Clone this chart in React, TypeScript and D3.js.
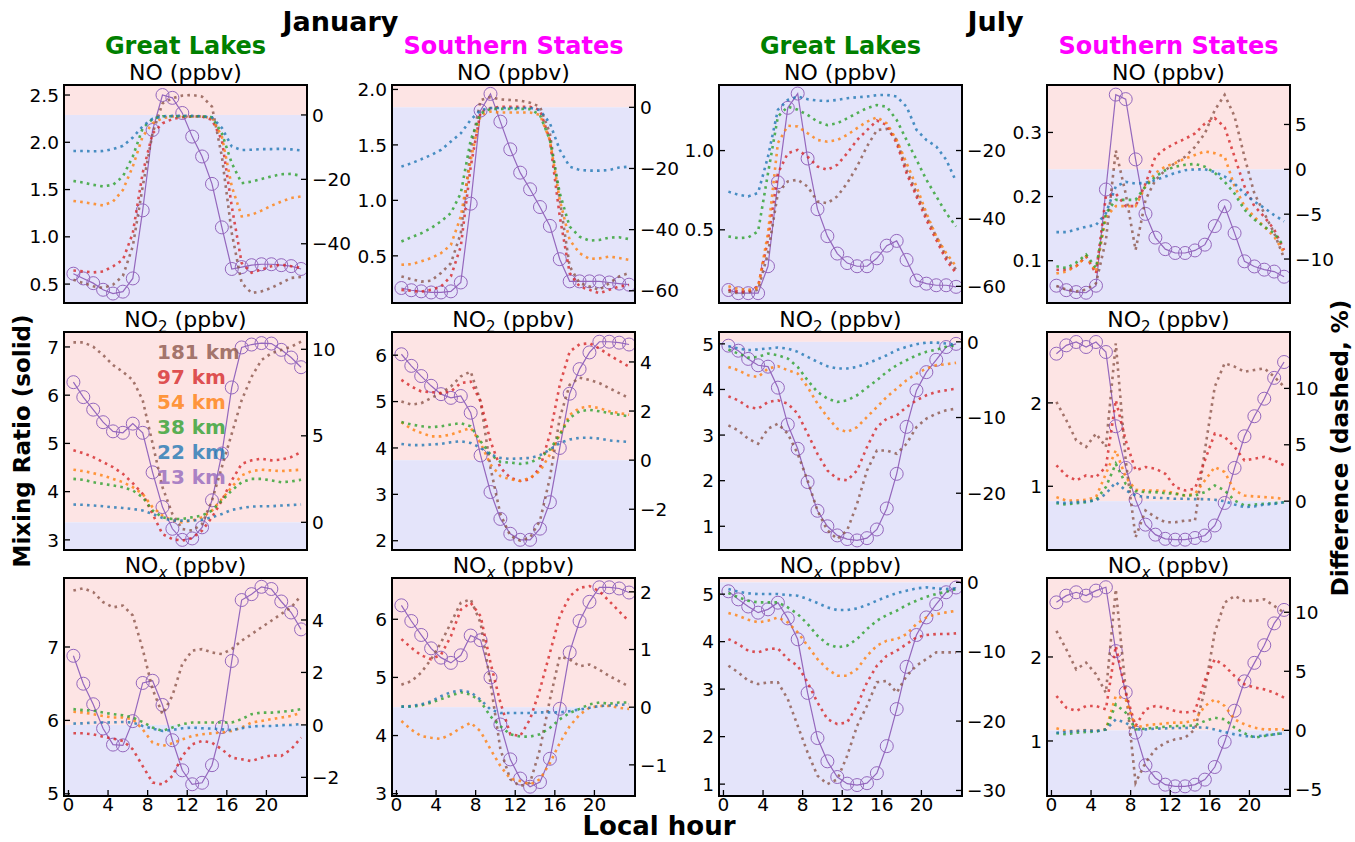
import React from "react";
import * as d3 from "d3";

// hourly points (local hour, bin centre)
const HOURS = [0.5, 1.5, 2.5, 3.5, 4.5, 5.5, 6.5, 7.5, 8.5, 9.5, 10.5, 11.5, 12.5, 13.5, 14.5, 15.5, 16.5, 17.5, 18.5, 19.5, 20.5, 21.5, 22.5, 23.5];
const X_TICKS = [0, 4, 8, 12, 16, 20];
const MONTHS = ["January", "July"];
const REGIONS = ["Great Lakes", "Southern States"];
const REGION_COLORS = ["#008000", "#ff00ff"];
// order of the dashed series: 181, 97, 54, 38, 22 km ; 13 km is the solid one
const SITES = ["181 km", "97 km", "54 km", "38 km", "22 km", "13 km"];
const SITE_COLORS = ["#8c564b", "#d62728", "#ff7f0e", "#2ca02c", "#1f77b4", "#9467bd"];

// ---------- NO ----------
const JAN_GL_NO = [0.61, 0.56, 0.51, 0.44, 0.40, 0.42, 0.56, 1.28, 2.13, 2.50, 2.47, 2.31, 2.06, 1.85, 1.56, 1.10, 0.66, 0.68, 0.70, 0.71, 0.71, 0.70, 0.69, 0.66];
const JAN_GL_NO_DIFF = [
  [-51.2, -52.2, -53.2, -53.7, -52.7, -50.0, -40.8, -22.2, -5.7, 3.6, 5.2, 6.0, 6.2, 5.7, 2.6, -12.9, -36.7, -52.2, -55.3, -54.8, -53.7, -52.2, -50.6, -50.3],
  [-48.3, -48.6, -48.9, -48.6, -47.0, -45.0, -36.7, -18.0, -5.7, -2.6, -1.3, -0.7, -0.5, -0.5, -1.5, -7.8, -28.4, -46.0, -49.0, -48.0, -47.0, -46.5, -47.0, -47.5],
  [-26.7, -27.1, -27.6, -28.1, -26.9, -23.3, -16.0, -6.7, -2.6, -1.0, -0.5, -0.5, -0.5, -0.5, -1.0, -6.7, -22.2, -31.5, -31.0, -29.7, -28.2, -26.9, -25.8, -25.3],
  [-20.5, -21.0, -21.7, -22.2, -21.7, -19.1, -12.9, -4.1, -1.2, -0.4, -0.4, -0.4, -0.4, -0.4, -0.7, -5.7, -15.0, -21.2, -20.7, -19.9, -19.1, -18.4, -18.3, -18.9],
  [-11.2, -11.2, -11.3, -11.2, -10.6, -9.6, -7.0, -3.5, -1.2, -0.4, -0.3, -0.3, -0.3, -0.4, -0.8, -4.0, -9.8, -10.9, -10.8, -10.6, -10.6, -10.5, -10.7, -11.0],
];
const JAN_SS_NO = [0.21, 0.19, 0.18, 0.17, 0.17, 0.18, 0.26, 0.97, 1.81, 1.96, 1.71, 1.46, 1.25, 1.10, 0.94, 0.77, 0.47, 0.27, 0.27, 0.27, 0.27, 0.26, 0.25, 0.24];
const JAN_SS_NO_DIFF = [
  [-55.3, -56.2, -57.0, -56.7, -54.2, -51.0, -41.2, -13.9, 2.4, 3.3, 2.6, 2.4, 2.2, 1.5, 0.2, -8.5, -30.3, -52.0, -57.5, -58.6, -59.7, -57.5, -55.3, -54.2],
  [-59.7, -60.0, -60.3, -59.7, -58.6, -55.3, -45.5, -19.4, -1.4, -0.3, 0.2, 0.2, 0.2, 0.2, -0.9, -10.7, -35.7, -54.2, -58.6, -59.7, -60.8, -59.7, -58.6, -58.1],
  [-51.5, -51.3, -50.4, -49.3, -47.7, -45.0, -35.7, -17.2, -2.5, -1.4, -1.7, -1.7, -1.7, -1.7, -2.5, -10.7, -30.3, -43.4, -47.7, -49.6, -49.4, -48.8, -49.3, -49.9],
  [-43.9, -42.5, -41.2, -39.5, -37.3, -34.6, -28.1, -10.7, -2.0, -0.5, -0.5, -0.5, -0.5, -0.6, -2.5, -10.7, -28.1, -39.0, -42.3, -43.6, -43.4, -42.6, -42.5, -43.1],
  [-19.4, -18.3, -17.0, -15.6, -13.9, -11.2, -8.5, -4.1, -0.9, -0.2, -0.2, -0.2, -0.2, -0.2, -0.9, -5.2, -13.9, -19.4, -20.5, -20.7, -20.7, -20.5, -19.7, -19.4],
];
const JUL_GL_NO = [0.12, 0.10, 0.10, 0.10, 0.27, 0.80, 1.27, 1.36, 0.95, 0.63, 0.46, 0.35, 0.29, 0.27, 0.27, 0.32, 0.40, 0.43, 0.31, 0.18, 0.16, 0.15, 0.15, 0.14];
const JUL_GL_NO_DIFF = [
  [-61.5, -62.0, -61.8, -61.0, -50.2, -32.5, -29.1, -28.6, -30.6, -35.0, -35.5, -33.5, -29.6, -24.7, -18.8, -14.0, -13.6, -16.9, -25.7, -32.5, -39.4, -45.3, -51.2, -55.1],
  [-61.0, -61.5, -61.5, -60.0, -46.3, -26.7, -20.8, -19.8, -21.8, -24.7, -25.7, -24.2, -20.8, -16.9, -14.0, -11.2, -12.5, -17.8, -26.7, -33.5, -40.4, -46.3, -52.2, -56.1],
  [-60.0, -60.8, -61.0, -60.5, -44.3, -17.8, -12.7, -12.9, -14.9, -16.9, -17.4, -16.9, -15.4, -13.4, -11.5, -10.2, -12.0, -16.9, -23.7, -30.6, -38.4, -45.3, -50.2, -54.1],
  [-45.3, -45.8, -45.6, -43.8, -26.7, -10.0, -7.1, -8.0, -9.5, -11.5, -12.5, -12.0, -10.5, -9.0, -7.5, -6.6, -7.1, -11.0, -16.9, -22.7, -28.6, -33.5, -38.4, -42.4],
  [-32.1, -33.0, -33.5, -32.5, -21.8, -8.0, -5.1, -4.1, -4.9, -5.3, -5.4, -5.1, -4.6, -4.3, -4.1, -3.7, -3.6, -4.1, -7.1, -13.9, -16.9, -18.8, -22.7, -29.1],
];
const JUL_SS_NO = [0.061, 0.054, 0.051, 0.050, 0.061, 0.211, 0.359, 0.352, 0.258, 0.173, 0.136, 0.118, 0.112, 0.112, 0.116, 0.125, 0.154, 0.185, 0.143, 0.099, 0.091, 0.086, 0.083, 0.075];
const JUL_SS_NO_DIFF = [
  [-13.0, -13.4, -13.6, -13.4, -12.7, -7.9, 2.1, -2.7, -9.0, -3.4, -1.2, -0.1, 0.7, 1.4, 2.5, 4.0, 6.6, 8.3, 5.9, 1.4, -2.7, -4.9, -7.1, -9.9],
  [-11.2, -11.2, -10.8, -9.7, -11.6, -3.0, -2.7, -4.1, -4.1, -1.6, 1.4, 2.3, 2.9, 3.4, 4.0, 5.1, 5.7, 4.7, 1.4, -1.9, -4.1, -5.3, -6.7, -9.0],
  [-11.6, -11.4, -10.8, -9.7, -11.4, -5.3, -4.1, -4.1, -4.1, -1.9, -0.4, 0.3, 0.7, 1.2, 1.6, 2.0, 1.8, 1.4, -1.9, -4.1, -5.3, -6.4, -7.5, -9.3],
  [-10.8, -11.0, -10.4, -9.5, -11.0, -4.9, -3.4, -3.4, -3.4, -1.9, -0.8, -0.1, 0.3, 0.5, 0.6, 0.3, -0.4, -1.4, -2.7, -4.5, -5.6, -6.4, -7.1, -8.6],
  [-7.0, -7.0, -6.7, -6.4, -6.2, -4.9, -1.9, -1.4, -1.6, -1.5, -1.2, -0.8, -0.4, -0.1, 0.0, 0.0, -0.3, -0.8, -1.6, -2.7, -3.6, -4.3, -5.1, -5.8],
];

// ---------- NO2 ----------
const JAN_GL_NO2 = [6.27, 5.96, 5.70, 5.44, 5.25, 5.22, 5.41, 5.22, 4.40, 3.68, 3.23, 3.00, 3.03, 3.26, 3.82, 4.79, 6.16, 6.99, 7.05, 7.08, 7.07, 6.94, 6.78, 6.58];
const JAN_GL_NO2_DIFF = [
  [10.4, 10.4, 10.15, 9.67, 9.09, 8.7, 8.22, 7.06, 4.55, 2.03, 0.48, -0.39, -0.48, -0.1, 1.26, 3.19, 5.13, 7.06, 8.41, 9.38, 9.77, 9.96, 10.15, 10.44],
  [4.16, 4.0, 3.77, 3.48, 3.19, 2.8, 2.26, 1.64, 0.48, -0.68, -0.97, -1.06, -0.91, -0.48, 0.29, 1.26, 2.42, 3.38, 3.58, 3.68, 3.58, 3.62, 3.77, 4.06],
  [3.04, 2.96, 2.84, 2.7, 2.51, 2.32, 2.03, 1.64, 0.87, 0.39, 0.1, 0.0, 0.1, 0.29, 0.68, 1.35, 2.03, 2.71, 2.96, 3.04, 3.0, 2.96, 3.0, 3.04],
  [2.51, 2.46, 2.32, 2.22, 2.13, 2.03, 1.84, 1.45, 0.68, 0.29, 0.19, 0.19, 0.29, 0.39, 0.68, 1.26, 1.84, 2.32, 2.51, 2.51, 2.42, 2.32, 2.36, 2.46],
  [1.03, 1.01, 0.97, 0.93, 0.87, 0.83, 0.77, 0.68, 0.48, 0.25, 0.1, 0.1, 0.1, 0.15, 0.29, 0.48, 0.72, 0.83, 0.91, 0.93, 0.93, 0.97, 1.0, 1.03],
];
const JAN_SS_NO2 = [6.02, 5.77, 5.55, 5.34, 5.16, 5.08, 5.12, 4.76, 3.84, 3.05, 2.47, 2.15, 2.02, 2.02, 2.26, 2.83, 4.00, 5.17, 5.70, 6.06, 6.29, 6.29, 6.27, 6.23];
const JAN_SS_NO2_DIFF = [
  [2.39, 2.26, 2.32, 2.53, 2.73, 3.0, 3.41, 3.61, 2.39, -0.31, -2.2, -3.08, -3.28, -3.15, -2.47, -0.72, 1.72, 3.07, 3.36, 3.27, 3.14, 2.93, 2.73, 2.53],
  [3.27, 3.0, 2.8, 2.77, 2.73, 2.8, 3.14, 3.2, 2.39, 0.77, -0.31, -0.72, -0.85, -0.78, -0.31, 1.04, 3.07, 4.42, 4.72, 4.76, 4.55, 4.28, 4.04, 3.81],
  [1.55, 1.27, 1.11, 0.97, 0.97, 1.04, 1.18, 1.31, 0.7, -0.18, -0.65, -0.78, -0.85, -0.72, -0.45, 0.23, 1.04, 1.85, 2.12, 2.19, 2.12, 1.99, 1.92, 1.85],
  [1.55, 1.45, 1.38, 1.34, 1.38, 1.45, 1.51, 1.38, 0.77, 0.23, -0.07, -0.1, -0.15, -0.1, 0.09, 0.43, 1.04, 1.72, 1.99, 2.05, 1.99, 1.92, 1.85, 1.78],
  [0.66, 0.61, 0.61, 0.64, 0.66, 0.73, 0.77, 0.7, 0.5, 0.23, 0.09, 0.05, 0.07, 0.09, 0.2, 0.43, 0.7, 0.84, 0.91, 0.91, 0.88, 0.8, 0.77, 0.74],
];
const JUL_GL_NO2 = [4.96, 4.85, 4.67, 4.53, 4.50, 4.04, 3.23, 2.70, 1.97, 1.34, 1.00, 0.80, 0.72, 0.69, 0.74, 0.93, 1.39, 2.15, 3.18, 3.98, 4.38, 4.65, 4.93, 5.00];
const JUL_GL_NO2_DIFF = [
  [-11.04, -11.7, -12.8, -13.47, -11.48, -10.82, -12.14, -14.79, -18.32, -22.3, -24.9, -26.05, -24.9, -21.4, -17.0, -14.35, -14.35, -14.79, -13.47, -11.26, -10.15, -9.49, -9.05, -8.83],
  [-7.2, -7.73, -8.61, -8.83, -7.95, -7.73, -8.17, -9.49, -12.14, -14.79, -17.0, -18.1, -18.3, -17.0, -13.9, -11.26, -10.15, -9.71, -8.61, -7.73, -7.06, -6.62, -6.4, -6.18],
  [-3.31, -3.75, -4.42, -4.64, -3.53, -3.22, -3.75, -4.19, -5.96, -8.17, -9.93, -11.48, -11.92, -11.26, -9.93, -8.61, -7.28, -6.18, -5.08, -4.19, -3.53, -3.09, -2.96, -2.78],
  [-1.02, -1.55, -2.08, -2.0, -1.55, -1.77, -2.21, -3.31, -5.08, -6.62, -7.5, -7.95, -7.73, -7.06, -6.05, -5.08, -3.97, -3.09, -2.43, -1.77, -1.32, -1.02, -0.66, -0.44],
  [-0.57, -0.88, -1.1, -1.0, -0.88, -0.75, -0.88, -1.32, -1.99, -2.65, -3.22, -3.53, -3.53, -3.31, -2.87, -2.34, -1.77, -1.1, -0.66, -0.31, -0.1, -0.1, -0.22, -0.44],
];
const JUL_SS_NO2 = [2.59, 2.69, 2.73, 2.67, 2.73, 2.61, 1.72, 1.22, 0.84, 0.54, 0.42, 0.37, 0.36, 0.36, 0.38, 0.41, 0.53, 0.80, 1.22, 1.60, 1.84, 2.05, 2.30, 2.49];
const JUL_SS_NO2_DIFF = [
  [8.81, 7.18, 5.4, 4.81, 5.99, 4.81, 14.0, 3.62, -3.2, -0.83, -1.42, -1.87, -1.87, -1.72, -1.72, 4.51, 10.15, 12.23, 11.93, 11.48, 11.63, 11.78, 11.04, 10.15],
  [3.18, 2.28, 1.84, 2.28, 2.14, 3.03, 8.96, 5.4, 2.73, 3.03, 2.88, 2.43, 1.25, 0.95, 1.1, 3.62, 5.99, 5.7, 4.81, 3.62, 3.77, 3.92, 3.62, 3.18],
  [0.36, 0.06, 0.06, 0.12, 0.36, 2.43, 4.51, 2.14, 1.01, 0.95, 0.95, 0.89, 0.71, 0.5, 0.65, 1.84, 3.03, 2.58, 0.95, 0.5, 0.42, 0.36, 0.3, 0.21],
  [-0.18, -0.3, -0.18, -0.09, 0.12, 1.25, 3.32, 1.54, 0.89, 0.8, 0.8, 0.71, 0.65, 0.5, 0.5, 0.8, 1.39, 0.95, 0.06, -0.39, -0.3, -0.24, -0.18, -0.09],
  [-0.09, -0.18, -0.09, -0.03, 0.06, 0.65, 1.69, 0.95, 0.5, 0.36, 0.3, 0.27, 0.21, 0.21, 0.18, 0.18, 0.12, 0.0, -0.3, -0.53, -0.47, -0.3, -0.24, -0.09],
];

// ---------- NOx ----------
const JAN_GL_NOX = [6.88, 6.50, 6.22, 5.89, 5.67, 5.66, 5.99, 6.51, 6.54, 6.21, 5.73, 5.32, 5.13, 5.15, 5.39, 5.91, 6.81, 7.64, 7.72, 7.82, 7.79, 7.62, 7.47, 7.24];
const JAN_GL_NOX_DIFF = [
  [5.12, 5.21, 5.06, 4.68, 4.48, 4.55, 4.17, 2.89, 1.36, 0.41, 1.11, 2.32, 2.83, 2.89, 2.76, 2.7, 2.89, 3.21, 3.46, 3.72, 3.97, 4.23, 4.48, 4.93],
  [-0.32, -0.32, -0.36, -0.45, -0.52, -0.61, -0.93, -1.57, -2.2, -2.27, -1.95, -1.18, -0.74, -0.61, -0.68, -0.93, -1.25, -1.31, -1.38, -1.25, -1.16, -1.18, -0.93, -0.48],
  [0.5, 0.47, 0.41, 0.34, 0.28, 0.28, 0.22, -0.17, -0.68, -0.8, -0.7, -0.55, -0.42, -0.36, -0.32, -0.29, -0.23, -0.1, 0.09, 0.15, 0.22, 0.28, 0.34, 0.47],
  [0.6, 0.56, 0.54, 0.47, 0.41, 0.37, 0.28, 0.11, -0.1, -0.23, -0.1, 0.03, 0.09, 0.09, 0.09, 0.09, 0.09, 0.22, 0.41, 0.47, 0.47, 0.5, 0.54, 0.6],
  [0.05, 0.06, 0.09, 0.09, 0.1, 0.11, 0.09, -0.04, -0.14, -0.23, -0.19, -0.13, -0.1, -0.13, -0.14, -0.17, -0.2, -0.13, -0.06, -0.04, -0.04, -0.01, 0.0, 0.03],
];
const JAN_SS_NOX = [6.24, 5.97, 5.73, 5.50, 5.34, 5.25, 5.38, 5.72, 5.64, 5.00, 4.19, 3.59, 3.26, 3.12, 3.20, 3.60, 4.46, 5.43, 5.97, 6.30, 6.55, 6.55, 6.53, 6.46];
const JAN_SS_NOX_DIFF = [
  [0.39, 0.45, 0.6, 0.83, 1.12, 1.46, 1.81, 1.87, 1.46, 0.42, -0.73, -1.25, -1.37, -1.31, -0.73, 0.13, 0.88, 0.83, 0.71, 0.74, 0.65, 0.54, 0.45, 0.36],
  [1.18, 1.03, 0.9, 0.83, 0.91, 1.23, 1.69, 1.81, 1.58, 0.77, 0.08, -0.47, -0.5, -0.21, 0.31, 0.94, 1.58, 1.92, 2.07, 2.1, 2.01, 1.84, 1.66, 1.49],
  [-0.24, -0.39, -0.5, -0.53, -0.55, -0.47, -0.36, -0.27, -0.42, -0.73, -1.02, -1.24, -1.28, -1.34, -1.25, -0.97, -0.62, -0.33, -0.13, -0.01, 0.02, 0.02, -0.01, -0.03],
  [0.01, 0.01, 0.03, 0.08, 0.14, 0.2, 0.26, 0.22, 0.1, -0.16, -0.33, -0.47, -0.51, -0.51, -0.47, -0.36, -0.21, -0.1, -0.03, 0.05, 0.08, 0.06, 0.08, 0.08],
  [0.01, 0.02, 0.05, 0.1, 0.19, 0.26, 0.29, 0.26, 0.13, -0.04, -0.1, -0.1, -0.1, -0.1, -0.09, -0.09, -0.09, -0.07, -0.04, -0.01, 0.02, 0.03, 0.04, 0.05],
];
const JUL_GL_NOX = [5.06, 4.89, 4.74, 4.61, 4.68, 4.82, 4.49, 4.05, 2.92, 1.97, 1.48, 1.15, 1.01, 0.98, 1.02, 1.23, 1.80, 2.58, 3.47, 4.14, 4.51, 4.79, 5.04, 5.14];
const JUL_GL_NOX_DIFF = [
  [-12.02, -12.98, -14.18, -14.66, -14.42, -14.42, -16.83, -20.67, -24.52, -27.88, -29.09, -28.4, -25.0, -20.7, -17.8, -14.4, -14.2, -15.9, -13.5, -12.0, -11.06, -10.1, -10.1, -10.1],
  [-8.17, -8.89, -9.86, -10.1, -9.62, -9.52, -11.06, -12.02, -14.42, -17.31, -19.71, -20.43, -20.19, -17.79, -14.42, -12.02, -10.58, -9.86, -8.89, -7.93, -7.6, -7.45, -7.45, -7.36],
  [-4.42, -4.81, -5.38, -5.77, -5.53, -5.05, -5.77, -7.21, -9.13, -11.06, -12.5, -13.46, -13.46, -12.5, -10.58, -9.13, -8.41, -8.17, -7.45, -6.0, -5.05, -4.57, -4.33, -4.09],
  [-1.54, -2.16, -2.64, -2.88, -2.88, -2.88, -3.61, -4.57, -6.0, -7.69, -8.89, -9.38, -9.13, -8.17, -6.73, -5.53, -4.71, -4.09, -3.27, -2.64, -2.07, -1.68, -1.35, -0.96],
  [-0.96, -1.35, -1.59, -1.68, -1.68, -1.68, -1.83, -1.92, -2.4, -2.98, -3.61, -3.99, -3.99, -3.75, -3.27, -2.64, -2.07, -1.54, -1.2, -0.87, -0.72, -0.87, -0.96, -0.87],
];
const JUL_SS_NOX = [2.65, 2.73, 2.77, 2.73, 2.79, 2.83, 2.07, 1.58, 1.10, 0.71, 0.56, 0.48, 0.46, 0.46, 0.48, 0.54, 0.69, 0.99, 1.36, 1.71, 1.93, 2.14, 2.40, 2.56];
const JUL_SS_NOX_DIFF = [
  [8.42, 6.86, 5.16, 5.73, 4.75, 3.19, 11.95, 3.47, -4.44, -2.74, -1.61, -1.05, -0.76, -0.62, 0.08, 3.47, 8.28, 10.82, 11.38, 10.96, 10.96, 11.1, 10.54, 9.97],
  [2.91, 1.92, 1.64, 2.06, 2.06, 1.78, 7.15, 3.19, 0.37, 1.78, 2.06, 1.92, 1.64, 1.5, 1.64, 4.24, 6.02, 5.45, 4.6, 3.9, 3.62, 3.47, 3.19, 2.77],
  [0.17, -0.06, -0.06, 0.03, -0.06, 0.08, 2.91, 2.63, 0.23, 0.42, 0.51, 0.59, 0.65, 0.65, 0.88, 2.06, 2.63, 2.06, 0.93, 0.51, 0.23, 0.08, 0.08, 0.08],
  [-0.25, -0.34, -0.2, -0.14, -0.11, 0.08, 2.2, 1.5, 0.08, 0.14, 0.23, 0.31, 0.37, 0.37, 0.42, 0.79, 1.07, 0.93, 0.23, -0.25, -0.62, -0.48, -0.34, -0.2],
  [-0.2, -0.14, -0.06, 0.0, -0.06, 0.08, 0.93, 0.65, 0.08, 0.08, 0.14, 0.17, 0.2, 0.2, 0.23, 0.25, 0.08, -0.14, -0.34, -0.48, -0.54, -0.42, -0.34, -0.25],
];

// axis limits and ticks for each panel (row-major)
const LEFT_LIMITS = [
  [0.30, 2.606], [0.075, 2.04], [0.038, 1.414], [0.034, 0.374],
  [2.79, 7.31], [1.80, 6.50], [0.48, 5.26], [0.236, 2.85],
  [4.97, 7.94], [2.96, 6.71], [0.75, 5.34], [0.345, 2.94],
];
const RIGHT_LIMITS = [
  [-58.4, 9.3], [-64.0, 7.3], [-64.9, -0.7], [-14.9, 9.4],
  [-1.6, 11.0], [-3.66, 5.22], [-27.5, 1.3], [-4.33, 15.0],
  [-2.71, 5.6], [-1.54, 2.24], [-30.8, 0.63], [-5.56, 12.9],
];
const LEFT_TICKS = [
  [0.5, 1.0, 1.5, 2.0, 2.5], [0.5, 1.0, 1.5, 2.0], [0.5, 1.0], [0.1, 0.2, 0.3],
  [3, 4, 5, 6, 7], [2, 3, 4, 5, 6], [1, 2, 3, 4, 5], [1, 2],
  [5, 6, 7], [3, 4, 5, 6], [1, 2, 3, 4, 5], [1, 2],
];
const RIGHT_TICKS = [
  [0, -20, -40], [0, -20, -40, -60], [-20, -40, -60], [5, 0, -5, -10],
  [0, 5, 10], [-2, 0, 2, 4], [-20, -10, 0], [0, 5, 10],
  [-2, 0, 2, 4], [-1, 0, 1, 2], [-30, -20, -10, 0], [-5, 0, 5, 10],
];

const MIX = [JAN_GL_NO, JAN_SS_NO, JUL_GL_NO, JUL_SS_NO, JAN_GL_NO2, JAN_SS_NO2, JUL_GL_NO2, JUL_SS_NO2, JAN_GL_NOX, JAN_SS_NOX, JUL_GL_NOX, JUL_SS_NOX];
const DIFF = [JAN_GL_NO_DIFF, JAN_SS_NO_DIFF, JUL_GL_NO_DIFF, JUL_SS_NO_DIFF, JAN_GL_NO2_DIFF, JAN_SS_NO2_DIFF, JUL_GL_NO2_DIFF, JUL_SS_NO2_DIFF, JAN_GL_NOX_DIFF, JAN_SS_NOX_DIFF, JUL_GL_NOX_DIFF, JUL_SS_NOX_DIFF];

// layout
const W = 1355, H = 842;
const COL_X = [64, 392, 719, 1047];
const ROW_Y = [85, 332, 578];
const PW = 243, PH = 218;
const FONT = "DejaVu Sans";
const TICK = 18.5;

function PanelTitle({ row, cx, y }) {
  // NO, NO2, NOx with subscripts
  if (row === 0) return <text x={cx} y={y} textAnchor="middle" fontSize={22}>NO (ppbv)</text>;
  const sub = row === 1 ? "2" : "x";
  return (
    <text x={cx} y={y} textAnchor="middle" fontSize={22}>
      NO<tspan dy={5} fontSize={15} fontStyle={row === 2 ? "italic" : "normal"}>{sub}</tspan>
      <tspan dy={-5}> (ppbv)</tspan>
    </text>
  );
}

function Panel({ idx }) {
  const row = Math.floor(idx / 4), col = idx % 4;
  const x0 = COL_X[col], y0 = ROW_Y[row];
  const x = d3.scaleLinear().domain([-0.45, 24.1]).range([x0, x0 + PW]);
  const y = d3.scaleLinear().domain(LEFT_LIMITS[idx]).range([y0 + PH, y0]);
  const y2 = d3.scaleLinear().domain(RIGHT_LIMITS[idx]).range([y0 + PH, y0]);
  const zero = Math.max(y0, Math.min(y0 + PH, y2(0)));
  const lfmt = row === 0 ? d3.format(".1f") : d3.format("d");
  const rfmt = d3.format("d");

  const solid = d3.line().x((d, i) => x(HOURS[i])).y((d) => y(d));
  const dashed = d3.line().x((d, i) => x(HOURS[i])).y((d) => y2(d));
  const clipId = "clip" + idx;

  return (
    <g>
      <defs>
        <clipPath id={clipId}>
          <rect x={x0} y={y0} width={PW} height={PH} />
        </clipPath>
      </defs>
      {/* positive / negative difference shading */}
      <rect x={x0} y={y0} width={PW} height={zero - y0} fill="#fde4e4" />
      <rect x={x0} y={zero} width={PW} height={y0 + PH - zero} fill="#e4e4fa" />

      {/* 13 km, solid with open circles */}
      <path d={solid(MIX[idx])} fill="none" stroke={SITE_COLORS[5]} strokeWidth={1.2} />
      {MIX[idx].map((v, i) => (
        <circle key={i} cx={x(HOURS[i])} cy={y(v)} r={6.5} fill="none" stroke={SITE_COLORS[5]} strokeWidth={1} />
      ))}

      {/* differences for the coarser grids, dotted */}
      <g clipPath={`url(#${clipId})`}>
        {DIFF[idx].map((s, k) => (
          <path key={k} d={dashed(s)} fill="none" stroke={SITE_COLORS[k]} strokeOpacity={0.8}
            strokeWidth={2.6} strokeDasharray="2.6 4.2" />
        ))}
      </g>

      <rect x={x0} y={y0} width={PW} height={PH} fill="none" stroke="#000" strokeWidth={2} />

      {/* left axis */}
      {LEFT_TICKS[idx].map((t) => (
        <g key={"l" + t}>
          <line x1={x0} x2={x0 + 6} y1={y(t)} y2={y(t)} stroke="#000" strokeWidth={1.3} />
          <text x={x0 - 5} y={y(t)} dy="0.36em" textAnchor="end" fontSize={TICK}>{lfmt(t)}</text>
        </g>
      ))}
      {/* right axis */}
      {RIGHT_TICKS[idx].map((t) => (
        <g key={"r" + t}>
          <line x1={x0 + PW - 6} x2={x0 + PW} y1={y2(t)} y2={y2(t)} stroke="#000" strokeWidth={1.3} />
          <text x={x0 + PW + 5} y={y2(t)} dy="0.36em" textAnchor="start" fontSize={TICK}>{rfmt(t)}</text>
        </g>
      ))}
      {/* hour axis only on the bottom row */}
      {row === 2 && X_TICKS.map((t) => (
        <g key={"x" + t}>
          <line x1={x(t)} x2={x(t)} y1={y0 + PH} y2={y0 + PH - 6} stroke="#000" strokeWidth={1.3} />
          <text x={x(t)} y={y0 + PH + 15} textAnchor="middle" fontSize={TICK}>{t}</text>
        </g>
      ))}

      <PanelTitle row={row} cx={x0 + PW / 2} y={y0 - 5} />
    </g>
  );
}

export default function App() {
  const legendX = COL_X[0] + 93;
  return (
    <svg width={W} height={H} style={{ position: "absolute", left: 0, top: 0, background: "#fff" }}
      fontFamily={FONT}>
      {MONTHS.map((m, i) => (
        <text key={m} x={(COL_X[i * 2] + COL_X[i * 2 + 1] + PW) / 2 - 9} y={31} textAnchor="middle"
          fontSize={27} fontWeight="bold">{m}</text>
      ))}
      {COL_X.map((cx, c) => (
        <text key={c} x={cx + PW / 2} y={54} textAnchor="middle" fontSize={24} fontWeight="bold"
          fill={REGION_COLORS[c % 2]}>{REGIONS[c % 2]}</text>
      ))}

      {MIX.map((_, i) => <Panel key={i} idx={i} />)}

      {/* site legend written as coloured text */}
      {SITES.map((s, i) => (
        <text key={s} x={legendX} y={ROW_Y[1] + 27 + i * 25} fontSize={20} fontWeight="bold"
          fill={SITE_COLORS[i]} fillOpacity={0.8}>{s}</text>
      ))}

      <text transform="translate(30,441) rotate(-90)" textAnchor="middle" fontSize={23} fontWeight="bold">
        Mixing Ratio (solid)
      </text>
      <text transform="translate(1348,448) rotate(-90)" textAnchor="middle" fontSize={23} fontWeight="bold">
        Difference (dashed, %)
      </text>
      <text x={659} y={835} textAnchor="middle" fontSize={26} fontWeight="bold">Local hour</text>
    </svg>
  );
}
